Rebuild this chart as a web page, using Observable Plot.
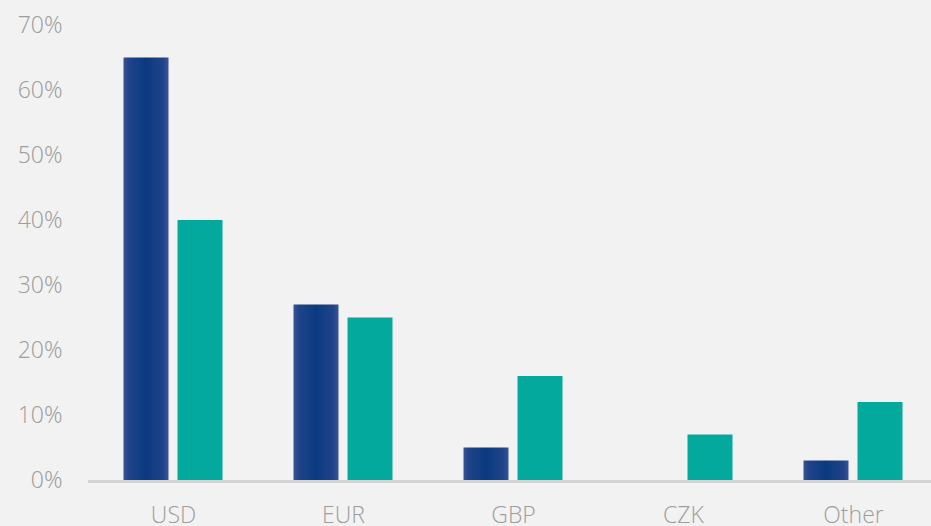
<!DOCTYPE html>
<html>
<head>
<meta charset="utf-8">
<script src="https://cdn.jsdelivr.net/npm/d3@7"></script>
<script src="https://cdn.jsdelivr.net/npm/@observablehq/plot@0.6"></script>
<style>
  html, body { margin: 0; padding: 0; background: #f2f2f2; }
  #chart svg { display: block; }
</style>
</head>
<body>
<div id="chart"></div>
<script>
const categories = ["USD", "EUR", "GBP", "CZK", "Other"];
const seriesA = [65, 27, 5, 0, 3];
const seriesB = [40, 25, 16, 7, 12];
const yTicks = [0, 10, 20, 30, 40, 50, 60, 70];

const rowsA = categories.map((c, i) => ({currency: c, value: seriesA[i]}));
const rowsB = categories.map((c, i) => ({currency: c, value: seriesB[i]}));

const chart = Plot.plot({
  width: 931,
  height: 526,
  marginLeft: 88,
  marginRight: 0,
  marginTop: 25,
  marginBottom: 46,
  style: {background: "#f2f2f2", fontFamily: "'Open Sans Light', 'Open Sans', sans-serif", fontSize: "23px", fontWeight: 300, color: "#9d9d9d"},
  x: {domain: categories, range: [87.5, 937.5], padding: 0, label: null, tickSize: 0, tickPadding: 26},
  y: {domain: [0, 70], ticks: yTicks, tickFormat: d => d + "%", label: null, tickSize: 0, tickPadding: 26},
  marks: [
    Plot.barY(rowsA.filter(d => d.value > 0), {x: "currency", y: "value", fill: "url(#gradBlue)", dx: -27, insetLeft: 62.5, insetRight: 62.5}),
    Plot.barY(rowsB, {x: "currency", y: "value", fill: "#03a99c", dx: 27, insetLeft: 62.5, insetRight: 62.5}),
    Plot.ruleY([0], {stroke: "#d3d3d3", strokeWidth: 3, dy: 1})
  ]
});

const svg = d3.select(chart);
const defs = svg.insert("defs", ":first-child");
const g = defs.append("linearGradient").attr("id", "gradBlue").attr("x1", "0").attr("x2", "1").attr("y1", "0").attr("y2", "0");
g.append("stop").attr("offset", "0%").attr("stop-color", "#3a5396");
g.append("stop").attr("offset", "12%").attr("stop-color", "#1f4389");
g.append("stop").attr("offset", "50%").attr("stop-color", "#0b3a82");
g.append("stop").attr("offset", "88%").attr("stop-color", "#1f4389");
g.append("stop").attr("offset", "100%").attr("stop-color", "#3a5396");

document.getElementById("chart").appendChild(chart);
</script>
</body>
</html>
